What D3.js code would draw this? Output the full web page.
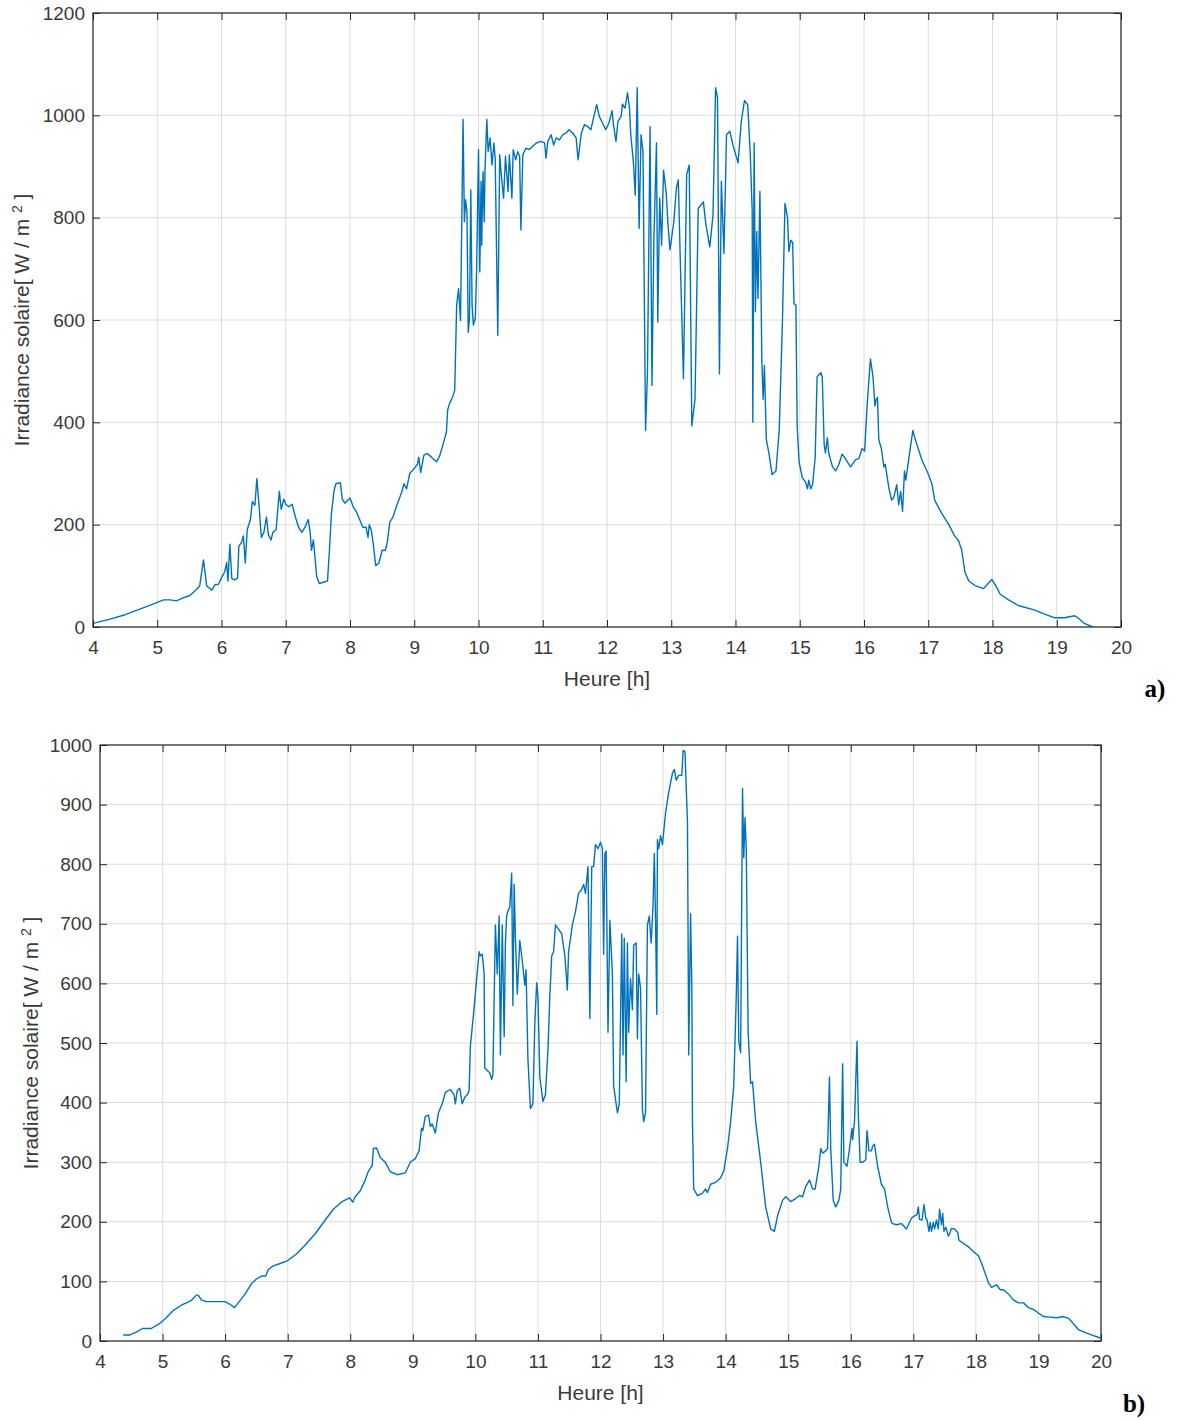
<!DOCTYPE html>
<html><head><meta charset="utf-8">
<script src="https://cdn.jsdelivr.net/npm/d3@7"></script>
<style>
body{margin:0;background:#fff;}
svg{display:block;}
text{font-family:"Liberation Sans",Arial,Helvetica,sans-serif;}
</style></head>
<body><svg id="chart" width="1177" height="1420"></svg>
<script>
// ---------- DATA (hour, irradiance W/m²) ----------
const hoursA = [4.00,4.25,4.5,4.75,5.0,5.1,5.2,5.3,5.4,5.5,5.6,5.66,5.72,5.77,5.85,5.9,5.95,6.0,6.05,6.08,6.1,6.13,6.16,6.2,6.25,6.27,6.31,6.34,6.37,6.4,6.45,6.48,6.52,6.55,6.58,6.62,6.66,6.7,6.73,6.77,6.8,6.85,6.9,6.93,6.97,7.0,7.05,7.1,7.15,7.2,7.25,7.3,7.35,7.38,7.4,7.43,7.46,7.48,7.52,7.6,7.65,7.68,7.71,7.75,7.78,7.85,7.88,7.92,8.0,8.05,8.1,8.15,8.2,8.25,8.28,8.3,8.33,8.36,8.4,8.45,8.5,8.55,8.58,8.62,8.67,8.72,8.8,8.84,8.88,8.93,9.0,9.05,9.07,9.1,9.15,9.2,9.25,9.3,9.35,9.4,9.45,9.5,9.52,9.55,9.6,9.63,9.66,9.69,9.72,9.76,9.78,9.8,9.82,9.84,9.86,9.88,9.9,9.92,9.95,9.97,10.0,10.02,10.04,10.05,10.07,10.09,10.1,10.13,10.15,10.18,10.21,10.24,10.26,10.3,10.33,10.35,10.39,10.42,10.46,10.48,10.52,10.54,10.58,10.61,10.64,10.66,10.69,10.74,10.79,10.84,10.9,10.97,11.03,11.05,11.08,11.13,11.17,11.21,11.26,11.31,11.36,11.41,11.47,11.52,11.55,11.6,11.65,11.7,11.75,11.79,11.84,11.88,11.93,11.98,12.03,12.08,12.1,12.14,12.17,12.22,12.24,12.28,12.32,12.35,12.37,12.41,12.44,12.47,12.5,12.53,12.56,12.6,12.63,12.67,12.7,12.73,12.77,12.79,12.82,12.85,12.88,12.92,12.95,12.98,13.04,13.08,13.11,13.14,13.19,13.24,13.28,13.32,13.37,13.42,13.5,13.54,13.6,13.65,13.69,13.72,13.75,13.78,13.82,13.86,13.91,13.96,14.04,14.09,14.14,14.19,14.23,14.26,14.27,14.29,14.31,14.33,14.35,14.38,14.41,14.43,14.45,14.48,14.52,14.57,14.63,14.68,14.73,14.77,14.81,14.83,14.86,14.89,14.91,14.94,14.96,14.99,15.04,15.09,15.12,15.14,15.17,15.2,15.24,15.27,15.33,15.35,15.38,15.4,15.43,15.45,15.51,15.56,15.61,15.66,15.71,15.79,15.87,15.92,15.97,16.01,16.05,16.1,16.14,16.17,16.19,16.21,16.23,16.27,16.31,16.33,16.39,16.43,16.46,16.51,16.54,16.57,16.6,16.63,16.65,16.68,16.72,16.76,16.8,16.9,17.01,17.06,17.1,17.21,17.32,17.41,17.47,17.52,17.57,17.63,17.73,17.86,17.94,17.99,18.05,18.12,18.25,18.4,18.66,18.81,18.97,19.12,19.28,19.33,19.43,19.56];
const irradA = [7,15,24,36,48,53,53,51,57,61,72,80,131,80,72,83,83,96,108,126,90,162,95,92,95,158,165,178,125,190,210,245,238,290,245,175,185,215,180,170,185,190,265,230,250,240,235,240,215,195,185,195,210,185,150,170,130,100,85,88,90,150,220,265,280,282,250,242,252,235,225,210,195,195,175,200,190,165,120,125,150,150,165,205,215,235,262,280,270,300,310,318,332,302,336,339,334,328,323,336,358,380,424,437,450,463,629,661,599,992,792,835,812,576,603,854,629,590,603,694,933,694,871,746,890,792,890,992,929,956,903,946,916,570,923,890,838,920,851,923,838,933,913,929,920,776,923,936,933,939,946,949,946,916,949,962,942,956,952,962,965,972,965,956,913,965,982,978,972,995,1021,998,985,972,985,1009,982,949,988,998,1022,1014,1044,1014,962,910,844,1054,779,962,929,384,498,978,472,759,946,596,838,746,893,851,786,737,792,858,874,720,485,884,903,393,446,818,831,786,743,805,1054,1034,495,871,730,962,969,942,907,988,1029,1021,923,812,400,946,616,773,642,851,520,445,511,366,340,298,305,384,594,828,800,734,756,751,632,629,392,322,292,283,270,287,270,278,331,489,497,489,357,340,370,340,313,305,318,338,329,313,327,329,349,344,436,524,489,432,445,449,366,349,313,318,270,248,252,278,239,265,226,305,287,313,349,384,366,327,296,278,248,222,200,178,169,151,108,90,81,75,86,93,81,64,53,42,33,25,18,18,22,18,7,0];

const hoursB = [4.37,4.47,4.58,4.68,4.82,4.95,5.06,5.17,5.3,5.38,5.46,5.54,5.57,5.62,5.7,5.86,6.0,6.07,6.15,6.21,6.32,6.42,6.5,6.58,6.65,6.69,6.77,6.88,7.0,7.14,7.28,7.44,7.6,7.73,7.87,7.99,8.04,8.08,8.16,8.24,8.29,8.35,8.37,8.42,8.48,8.56,8.64,8.75,8.88,8.96,9.04,9.1,9.14,9.16,9.2,9.25,9.28,9.31,9.36,9.41,9.47,9.52,9.6,9.66,9.68,9.71,9.75,9.79,9.83,9.87,9.9,9.92,9.97,10.03,10.06,10.08,10.11,10.14,10.15,10.19,10.23,10.26,10.28,10.32,10.35,10.38,10.4,10.43,10.46,10.48,10.5,10.52,10.55,10.58,10.6,10.62,10.64,10.67,10.71,10.75,10.79,10.81,10.84,10.88,10.92,10.95,10.98,11.0,11.03,11.08,11.12,11.16,11.19,11.22,11.25,11.28,11.33,11.38,11.43,11.47,11.49,11.55,11.6,11.65,11.7,11.73,11.76,11.8,11.83,11.86,11.89,11.92,11.96,12.0,12.03,12.05,12.07,12.09,12.12,12.15,12.19,12.21,12.27,12.3,12.34,12.36,12.38,12.41,12.43,12.45,12.48,12.51,12.53,12.57,12.59,12.61,12.64,12.67,12.69,12.72,12.75,12.78,12.81,12.84,12.86,12.88,12.9,12.91,12.93,12.96,12.99,13.04,13.09,13.15,13.18,13.21,13.25,13.3,13.32,13.35,13.39,13.41,13.44,13.46,13.47,13.49,13.55,13.63,13.68,13.71,13.76,13.84,13.92,13.97,14.03,14.08,14.13,14.17,14.19,14.21,14.24,14.27,14.29,14.31,14.33,14.36,14.4,14.43,14.48,14.56,14.64,14.72,14.78,14.83,14.91,14.96,15.04,15.12,15.18,15.23,15.28,15.34,15.39,15.43,15.49,15.52,15.55,15.6,15.63,15.66,15.68,15.72,15.76,15.81,15.84,15.87,15.89,15.94,15.98,16.02,16.03,16.06,16.1,16.12,16.15,16.19,16.24,16.26,16.29,16.33,16.35,16.38,16.43,16.49,16.54,16.59,16.65,16.67,16.73,16.81,16.89,16.97,17.02,17.06,17.08,17.1,17.14,17.17,17.2,17.22,17.25,17.27,17.29,17.32,17.34,17.37,17.4,17.42,17.45,17.47,17.49,17.52,17.56,17.58,17.61,17.66,17.71,17.73,17.8,17.88,17.96,18.04,18.09,18.14,18.2,18.25,18.33,18.39,18.44,18.52,18.6,18.68,18.76,18.84,18.92,19.0,19.08,19.19,19.29,19.4,19.48,19.56,19.64,19.75,19.88,19.99];
const irradB = [10,10,15,21,21,29,39,51,60,64,68,77,77,69,66,66,66,62,56,64,79,96,104,109,109,120,126,130,135,146,161,180,203,221,234,240,233,242,252,270,285,294,323,324,308,300,284,279,282,300,306,319,357,353,377,379,360,364,349,383,398,417,422,413,398,420,424,398,409,413,420,495,548,619,653,646,649,616,458,454,450,439,447,698,616,713,480,698,511,668,713,721,728,785,563,766,676,582,672,638,597,623,473,390,398,533,601,578,443,402,413,488,578,646,653,698,691,683,646,589,653,698,721,751,758,766,751,796,541,796,796,833,826,837,826,649,818,822,518,706,616,428,383,398,683,480,676,435,668,518,608,556,664,668,507,616,593,390,368,383,698,713,668,732,818,706,548,841,826,848,833,886,920,953,959,941,949,949,991,989,871,480,717,593,368,255,244,248,255,249,263,266,274,285,323,368,428,578,679,503,484,927,811,878,826,518,432,435,368,300,225,188,184,210,236,242,234,239,244,242,259,270,255,255,293,323,315,319,323,443,323,236,225,236,255,465,300,293,323,357,338,368,503,383,300,300,304,353,319,319,327,330,293,263,255,225,199,197,195,197,188,206,210,212,225,204,203,229,206,203,184,199,184,199,188,203,188,221,195,214,184,191,176,180,189,188,182,169,164,158,150,143,131,116,98,90,94,86,86,79,69,64,64,56,53,47,41,40,39,41,38,29,19,14,9,5];

const xTicks = [4,5,6,7,8,9,10,11,12,13,14,15,16,17,18,19,20];
const yTicksA = [0,200,400,600,800,1000,1200];
const yTicksB = [0,100,200,300,400,500,600,700,800,900,1000];
const xLabel = "Heure [h]";
const yLabelMain = "Irradiance solaire[ W / m ";
const yLabelSup = "2";
const yLabelEnd = " ]";
const panelTags = ["a)", "b)"];

// ---------- DRAW ----------
const svg = d3.select("#chart");
const LINE = "#0072BD", AXIS = "#262626", GRID = "#dcdcdc", TXT = "#3a3a3a";

function panel(cfg){
  const g = svg.append("g");
  const x = d3.scaleLinear().domain([4,20]).range([cfg.left, cfg.right]);
  const y = d3.scaleLinear().domain(cfg.yDomain).range([cfg.bottom, cfg.top]);
  // grid
  g.append("g").selectAll("line").data(xTicks).join("line")
    .attr("x1", d=>x(d)).attr("x2", d=>x(d)).attr("y1", cfg.top).attr("y2", cfg.bottom)
    .attr("stroke", GRID).attr("stroke-width", 1);
  g.append("g").selectAll("line").data(cfg.yTicks).join("line")
    .attr("x1", cfg.left).attr("x2", cfg.right).attr("y1", d=>y(d)).attr("y2", d=>y(d))
    .attr("stroke", GRID).attr("stroke-width", 1);
  // line
  const clipId = "clip"+cfg.id;
  g.append("clipPath").attr("id", clipId).append("rect")
    .attr("x", cfg.left).attr("y", cfg.top-2).attr("width", cfg.right-cfg.left).attr("height", cfg.bottom-cfg.top+2);
  const pts = cfg.hours.map((h,i)=>[h, cfg.vals[i]]);
  g.append("path").datum(pts)
    .attr("clip-path", `url(#${clipId})`)
    .attr("fill","none").attr("stroke", LINE).attr("stroke-width", 1.4)
    .attr("stroke-linejoin","round")
    .attr("d", d3.line().x(d=>x(d[0])).y(d=>y(d[1])));
  // axes (MATLAB box with inward ticks on all sides)
  const tl = 7;
  const ax = (gen, tx, ty) => {
    const a = g.append("g").attr("transform", `translate(${tx},${ty})`).call(gen);
    a.select(".domain").remove();
    a.selectAll("line").attr("stroke", AXIS).attr("stroke-width", 1);
    a.selectAll("text").attr("fill", TXT).style("font-size","19px");
    return a;
  };
  ax(d3.axisBottom(x).tickValues(xTicks).tickFormat(d3.format("d")).tickSizeInner(-tl).tickSizeOuter(0).tickPadding(14), 0, cfg.bottom);
  ax(d3.axisTop(x).tickValues(xTicks).tickFormat("").tickSizeInner(-tl).tickSizeOuter(0), 0, cfg.top);
  ax(d3.axisLeft(y).tickValues(cfg.yTicks).tickFormat(d3.format("d")).tickSizeInner(-tl).tickSizeOuter(0).tickPadding(8), cfg.left, 0);
  ax(d3.axisRight(y).tickValues(cfg.yTicks).tickFormat("").tickSizeInner(-tl).tickSizeOuter(0), cfg.right, 0);
  g.append("rect").attr("x", cfg.left).attr("y", cfg.top)
    .attr("width", cfg.right-cfg.left).attr("height", cfg.bottom-cfg.top)
    .attr("fill","none").attr("stroke", AXIS).attr("stroke-width", 1.2);
  // labels
  g.append("text").attr("x", (cfg.left+cfg.right)/2).attr("y", cfg.bottom+59)
    .attr("text-anchor","middle").attr("fill", TXT).style("font-size","21px").text(xLabel);
  const yl = g.append("text").attr("transform", `translate(${cfg.ylx},${(cfg.top+cfg.bottom)/2}) rotate(-90)`)
    .attr("text-anchor","middle").attr("fill", TXT).style("font-size","21px");
  yl.append("tspan").text(yLabelMain);
  yl.append("tspan").attr("dy", -7).style("font-size","14px").text(yLabelSup);
  yl.append("tspan").attr("dy", 7).text(yLabelEnd);
  svg.append("text").attr("x", cfg.tagX).attr("y", cfg.tagY)
    .attr("text-anchor","middle").attr("fill","#000")
    .style("font-family","'Liberation Serif','Times New Roman',serif")
    .style("font-weight","bold").style("font-size","25px").text(cfg.tag);
}

panel({id:"A", left:93, right:1121, top:13, bottom:627, yDomain:[0,1200], yTicks:yTicksA,
  hours:hoursA, vals:irradA, ylx:29, tag:panelTags[0], tagX:1155, tagY:697});
panel({id:"B", left:100, right:1101, top:745, bottom:1341, yDomain:[0,1000], yTicks:yTicksB,
  hours:hoursB, vals:irradB, ylx:38, tag:panelTags[1], tagX:1134, tagY:1412});
</script></body></html>
